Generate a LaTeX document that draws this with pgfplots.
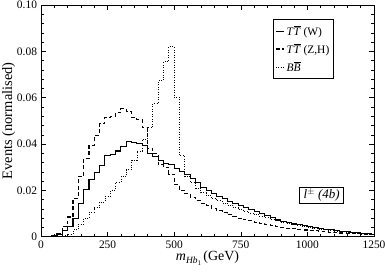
\documentclass[border=0pt]{standalone}
\usepackage{pgfplots}
\usepackage{pgfplotstable}
\pgfplotsset{compat=1.18}
\usepackage{fontspec}
\setmainfont{Liberation Serif}

\pgfplotstableread{
x     w       zh      bb
0     0.0001  0.0000  0.0000
20    0.0002  0.0001  0.0000
40    0.0004  0.0005  0.0000
60    0.0010  0.0015  0.0001
80    0.0027  0.0045  0.0004
100   0.0043  0.0085  0.0012
120   0.0080  0.0165  0.0030
140   0.0145  0.0260  0.0055
160   0.0205  0.0338  0.0080
180   0.0245  0.0395  0.0105
200   0.0277  0.0437  0.0125
220   0.0308  0.0488  0.0150
240   0.0350  0.0516  0.0175
260   0.0355  0.0520  0.0200
280   0.0370  0.0535  0.0235
300   0.0388  0.0552  0.0260
320   0.0410  0.0540  0.0290
340   0.0406  0.0515  0.0330
360   0.0402  0.0505  0.0370
380   0.0395  0.0470  0.0420
400   0.0358  0.0380  0.0473
420   0.0345  0.0358  0.0575
440   0.0330  0.0310  0.0674
460   0.0316  0.0300  0.0756
480   0.0310  0.0270  0.0820
500   0.0295  0.0225  0.0600
520   0.0280  0.0200  0.0350
540   0.0268  0.0185  0.0260
560   0.0252  0.0170  0.0235
580   0.0232  0.0155  0.0210
600   0.0212  0.0145  0.0190
620   0.0200  0.0133  0.0178
640   0.0188  0.0122  0.0165
660   0.0175  0.0112  0.0155
680   0.0163  0.0103  0.0145
700   0.0153  0.0095  0.0135
720   0.0144  0.0087  0.0125
740   0.0134  0.0080  0.0117
760   0.0126  0.0073  0.0110
780   0.0118  0.0068  0.0102
800   0.0110  0.0062  0.0095
820   0.0100  0.0057  0.0088
840   0.0090  0.0052  0.0082
860   0.0082  0.0047  0.0075
880   0.0072  0.0043  0.0069
900   0.0064  0.0040  0.0063
920   0.0060  0.0037  0.0057
940   0.0055  0.0034  0.0052
960   0.0051  0.0031  0.0048
980   0.0047  0.0029  0.0044
1000  0.0044  0.0027  0.0040
1020  0.0040  0.0025  0.0036
1040  0.0036  0.0023  0.0033
1060  0.0033  0.0021  0.0030
1080  0.0030  0.0020  0.0028
1100  0.0027  0.0018  0.0025
1120  0.0024  0.0016  0.0022
1140  0.0021  0.0015  0.0020
1160  0.0019  0.0013  0.0018
1180  0.0017  0.0012  0.0016
1200  0.0015  0.0011  0.0014
1220  0.0012  0.0010  0.0012
1240  0.0011  0.0009  0.0010
1260  0.0011  0.0009  0.0010
}\histdata

\begin{document}
\begin{tikzpicture}
\begin{axis}[
  scale only axis,
  width=333bp, height=231.7bp,
  xmin=0, xmax=1250, ymin=0, ymax=0.1,
  xtick={0,250,500,750,1000,1250},
  xticklabels={0,250,500,750,1000,1250},
  minor x tick num=4,
  ytick={0,0.02,0.04,0.06,0.08,0.1},
  yticklabels={0,0.02,0.04,0.06,0.08,0.10},
  minor y tick num=4,
  tick align=inside,
  tick pos=both,
  xticklabel pos=lower, yticklabel pos=left,
  major tick length=5bp, minor tick length=3bp,
  every tick/.style={black, line width=0.5pt},
  axis line style={line width=0.7pt},
  tick label style={font=\fontsize{11.5}{13}\selectfont},
  /pgf/number format/assume math mode=true,
  xticklabel style={yshift=-1bp},
  yticklabel style={xshift=-0.5bp},
  xlabel={\textit{m}\raisebox{-0.45ex}{\fontsize{9.5}{10}\selectfont\textit{Hb}\raisebox{-0.45ex}{\fontsize{7}{8}\selectfont 1}}\,(GeV)},
  ylabel={Events (normalised)},
  xlabel style={font=\fontsize{14}{16}\selectfont, at={(axis description cs:0.5,-0.093)}, anchor=center},
  ylabel style={font=\fontsize{14.5}{16}\selectfont, at={(axis description cs:-0.097,0.5)}, anchor=center},
  legend style={at={(axis description cs:0.696,0.938)}, anchor=north west,
    font=\fontsize{11.5}{13}\selectfont, draw=black, line width=0.5pt,
    inner xsep=2pt, inner ysep=4pt, row sep=3pt,
    cells={anchor=west}},
  legend image code/.code={\draw[#1] (0cm,0cm) -- (0.3cm,0cm);},
  clip=true,
]
\addplot[const plot, black, line width=1.1pt] table[x=x, y=w] {\histdata};
\addlegendentry{$\mbox{\textit{T}}\overline{\mbox{\textit{T}}}$ (W)}
\addplot[const plot, black, line width=1.1pt, dash pattern=on 4pt off 2.5pt] table[x=x, y=zh] {\histdata};
\addlegendentry{$\mbox{\textit{T}}\overline{\mbox{\textit{T}}}$ (Z,H)}
\addplot[const plot, black, line width=0.8pt, dash pattern=on 0.8pt off 1.7pt] table[x=x, y=bb] {\histdata};
\addlegendentry{$\mbox{\textit{B}}\overline{\mbox{\textit{B}}}$}
\node[draw=black, line width=0.5pt, fill=white, inner xsep=4pt, inner ysep=2pt,
  font=\fontsize{13}{15}\selectfont] at (axis description cs:0.843,0.18)
  {\textit{l}\textsuperscript{$\pm$} \textit{(4b)}};
\end{axis}
\pgfresetboundingbox
\path (-41bp,-36.3bp) rectangle (344bp,236.7bp);
\end{tikzpicture}
\end{document}
